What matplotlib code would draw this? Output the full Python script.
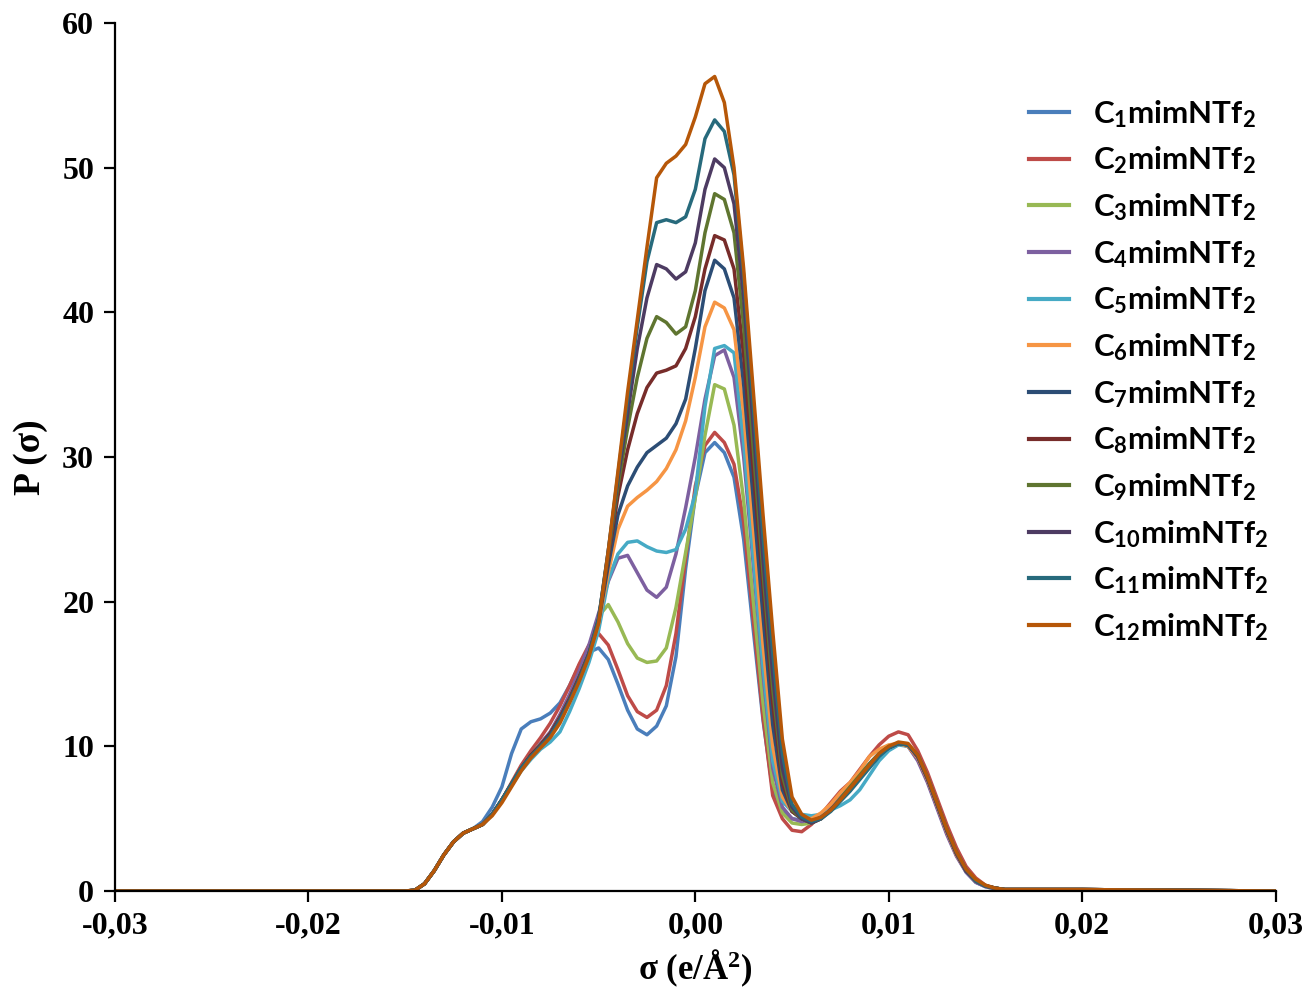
import numpy as np
import matplotlib
matplotlib.use("Agg")
import matplotlib.pyplot as plt
from matplotlib.ticker import FuncFormatter, MultipleLocator

# sigma grid (e/A^2): flat ends plus 0.0005 steps over the profile
sigma = np.concatenate(([-0.03], np.round(np.arange(-0.015, 0.01601, 0.0005), 4), [0.02, 0.025, 0.03]))

# P(sigma) values, one list per ionic liquid
# columns: -0.03 | -0.015 ... 0.016 (step 0.0005) | 0.02 0.025 0.03
c1 = [0, 0, 0.05, 0.5, 1.4, 2.5, 3.4, 4.0, 4.3, 4.8, 5.8, 7.2, 9.5, 11.2, 11.7, 11.9, 12.3, 13.0, 14.2, 15.6, 16.5,
      16.8, 16.0, 14.3, 12.5, 11.2, 10.8, 11.4, 12.8, 16.2, 22.3, 27.3, 30.3, 31.0, 30.3, 28.6, 24.3, 18.0, 11.8, 7.0, 5.5, 5.0, 4.9,
      4.8, 5.1, 5.6, 6.3, 7.0, 7.8, 8.6, 9.4, 9.9, 10.2, 10.0, 9.1, 7.6, 5.8, 4.0, 2.5, 1.3, 0.6, 0.3, 0.15, 0.1,
      0.1, 0.05, 0]
c2 = [0, 0, 0.05, 0.5, 1.4, 2.5, 3.4, 4.0, 4.3, 4.6, 5.3, 6.3, 7.5, 8.7, 9.7, 10.6, 11.6, 12.8, 14.2, 15.7, 17.0,
      17.8, 17.0, 15.3, 13.5, 12.4, 12.0, 12.5, 14.2, 17.8, 23.0, 28.0, 30.8, 31.7, 31.0, 29.5, 25.5, 18.7, 12.0, 6.6, 5.0, 4.2, 4.1,
      4.6, 5.3, 6.1, 6.9, 7.5, 8.4, 9.3, 10.1, 10.7, 11.0, 10.8, 9.7, 8.2, 6.4, 4.6, 3.0, 1.7, 0.9, 0.4, 0.2, 0.1,
      0.1, 0.05, 0]
c3 = [0, 0, 0.05, 0.5, 1.4, 2.5, 3.4, 4.0, 4.3, 4.6, 5.3, 6.3, 7.4, 8.5, 9.4, 10.2, 10.9, 12.0, 13.3, 14.8, 16.6,
      19.0, 19.8, 18.6, 17.1, 16.1, 15.8, 15.9, 16.8, 19.6, 23.4, 27.2, 31.5, 35.0, 34.7, 32.2, 27.0, 20.0, 13.0, 7.5, 5.4, 4.7, 4.6,
      4.7, 5.1, 5.6, 6.3, 7.0, 7.8, 8.6, 9.4, 9.9, 10.2, 10.1, 9.3, 7.8, 6.0, 4.2, 2.6, 1.4, 0.7, 0.35, 0.2, 0.1,
      0.1, 0.05, 0]
c4 = [0, 0, 0.05, 0.5, 1.4, 2.5, 3.4, 4.0, 4.3, 4.6, 5.3, 6.3, 7.4, 8.5, 9.4, 10.2, 11.0, 12.2, 13.6, 15.2, 17.0,
      19.2, 21.4, 23.0, 23.2, 22.0, 20.8, 20.3, 21.0, 23.3, 26.5, 30.0, 34.0, 37.0, 37.4, 35.5, 30.0, 22.5, 15.0, 8.5, 5.8, 5.0, 4.8,
      4.9, 5.3, 5.8, 6.5, 7.2, 8.0, 8.8, 9.5, 10.0, 10.2, 10.0, 9.0, 7.5, 5.7, 3.9, 2.4, 1.3, 0.6, 0.3, 0.15, 0.1,
      0.1, 0.05, 0]
c5 = [0, 0, 0.05, 0.5, 1.4, 2.5, 3.4, 4.0, 4.3, 4.6, 5.3, 6.3, 7.3, 8.3, 9.1, 9.8, 10.3, 11.0, 12.4, 14.0, 15.8,
      18.0, 21.5, 23.3, 24.1, 24.2, 23.8, 23.5, 23.4, 23.6, 25.0, 27.5, 33.5, 37.5, 37.7, 37.2, 31.0, 23.0, 15.5, 9.0, 6.2, 5.5, 5.3,
      5.2, 5.3, 5.6, 5.9, 6.3, 7.0, 8.0, 9.0, 9.7, 10.1, 10.0, 9.3, 7.8, 6.0, 4.2, 2.6, 1.4, 0.7, 0.35, 0.2, 0.1,
      0.1, 0.05, 0]
c6 = [0, 0, 0.05, 0.5, 1.4, 2.5, 3.4, 4.0, 4.3, 4.6, 5.3, 6.3, 7.4, 8.5, 9.4, 10.1, 10.9, 12.0, 13.3, 14.8, 16.4,
      18.5, 22.0, 25.0, 26.6, 27.2, 27.7, 28.3, 29.2, 30.5, 32.5, 35.5, 39.0, 40.7, 40.3, 38.8, 33.0, 25.0, 17.0, 10.0, 6.5, 5.5, 5.1,
      5.0, 5.4, 6.0, 6.8, 7.5, 8.3, 9.3, 9.8, 10.1, 10.2, 10.0, 9.2, 7.7, 5.9, 4.1, 2.5, 1.4, 0.7, 0.35, 0.2, 0.1,
      0.1, 0.05, 0]
c7 = [0, 0, 0.05, 0.5, 1.4, 2.5, 3.4, 4.0, 4.3, 4.6, 5.3, 6.3, 7.4, 8.5, 9.4, 10.1, 10.9, 12.0, 13.3, 14.8, 16.4,
      18.6, 22.5, 26.0, 28.0, 29.3, 30.3, 30.8, 31.3, 32.3, 34.0, 37.5, 41.5, 43.6, 43.0, 41.0, 35.0, 27.0, 19.0, 11.5, 7.0, 5.5, 5.0,
      4.8, 5.1, 5.6, 6.3, 7.0, 7.8, 8.6, 9.4, 9.9, 10.2, 10.1, 9.3, 7.8, 6.0, 4.2, 2.6, 1.4, 0.7, 0.35, 0.2, 0.1,
      0.1, 0.05, 0]
c8 = [0, 0, 0.05, 0.5, 1.4, 2.5, 3.4, 4.0, 4.3, 4.6, 5.3, 6.3, 7.4, 8.5, 9.4, 10.1, 10.9, 12.0, 13.3, 14.8, 16.4,
      18.7, 23.0, 27.3, 30.5, 33.0, 34.8, 35.8, 36.0, 36.3, 37.5, 39.7, 43.0, 45.3, 45.0, 43.0, 37.0, 29.0, 21.0, 13.0, 7.5, 5.5, 5.0,
      4.7, 5.0, 5.6, 6.3, 7.0, 7.8, 8.6, 9.4, 9.9, 10.2, 10.1, 9.3, 7.8, 6.0, 4.2, 2.6, 1.4, 0.7, 0.35, 0.2, 0.1,
      0.1, 0.05, 0]
c9 = [0, 0, 0.05, 0.5, 1.4, 2.5, 3.4, 4.0, 4.3, 4.6, 5.3, 6.3, 7.4, 8.5, 9.3, 10.0, 10.8, 11.9, 13.2, 14.7, 16.4,
      18.8, 23.3, 28.0, 32.0, 35.5, 38.2, 39.7, 39.3, 38.5, 39.0, 41.5, 45.5, 48.2, 47.8, 45.5, 39.0, 30.5, 22.0, 14.0, 8.0, 5.6, 5.0,
      4.7, 5.0, 5.6, 6.4, 7.2, 8.0, 8.8, 9.5, 10.0, 10.2, 10.1, 9.3, 7.8, 6.0, 4.2, 2.6, 1.4, 0.7, 0.35, 0.2, 0.1,
      0.1, 0.05, 0]
c10 = [0, 0, 0.05, 0.5, 1.4, 2.5, 3.4, 4.0, 4.3, 4.6, 5.3, 6.3, 7.4, 8.5, 9.3, 10.0, 10.8, 11.9, 13.2, 14.7, 16.4,
       18.8, 23.5, 28.5, 33.0, 37.5, 41.0, 43.3, 43.0, 42.3, 42.8, 44.8, 48.5, 50.6, 50.0, 47.5, 41.0, 32.0, 23.0, 15.0, 8.5, 5.8, 5.0,
       4.7, 5.0, 5.6, 6.3, 7.0, 7.8, 8.6, 9.4, 9.9, 10.2, 10.1, 9.3, 7.8, 6.0, 4.2, 2.6, 1.4, 0.7, 0.35, 0.2, 0.1,
       0.1, 0.05, 0]
c11 = [0, 0, 0.05, 0.5, 1.4, 2.5, 3.4, 4.0, 4.3, 4.6, 5.3, 6.3, 7.4, 8.5, 9.3, 10.0, 10.7, 11.8, 13.1, 14.6, 16.3,
       18.8, 23.5, 28.8, 34.0, 39.0, 43.5, 46.2, 46.4, 46.2, 46.6, 48.5, 52.0, 53.3, 52.5, 49.5, 42.5, 33.5, 24.5, 16.5, 9.5, 6.0, 5.1,
       4.8, 5.0, 5.5, 6.2, 6.9, 7.7, 8.5, 9.3, 9.9, 10.2, 10.1, 9.4, 7.9, 6.1, 4.3, 2.7, 1.5, 0.7, 0.35, 0.2, 0.1,
       0.1, 0.05, 0]
c12 = [0, 0, 0.05, 0.5, 1.4, 2.5, 3.4, 4.0, 4.3, 4.6, 5.2, 6.1, 7.2, 8.3, 9.2, 9.9, 10.6, 11.6, 13.0, 14.5, 16.2,
       18.5, 23.5, 29.0, 34.5, 39.5, 44.5, 49.3, 50.3, 50.8, 51.6, 53.5, 55.8, 56.3, 54.5, 50.0, 43.0, 34.5, 26.0, 18.0, 10.5, 6.5, 5.3,
       4.9, 5.1, 5.6, 6.3, 7.1, 7.9, 8.7, 9.5, 10.0, 10.3, 10.2, 9.4, 7.9, 6.1, 4.3, 2.7, 1.5, 0.8, 0.4, 0.2, 0.1,
       0.1, 0.05, 0]

profiles = [c1, c2, c3, c4, c5, c6, c7, c8, c9, c10, c11, c12]
names = [r"C$_{%d}$mimNTf$_{2}$" % n for n in range(1, 13)]
colors = ["#4A7EBB", "#BE4B48", "#98B954", "#7D60A0", "#46AAC5", "#F69544",
          "#2C4D75", "#772C2A", "#5F7530", "#4D3B62", "#276A7C", "#B65708"]

plt.rcParams["mathtext.default"] = "regular"

fig = plt.figure(figsize=(13.07, 9.94), dpi=100)
ax = fig.add_axes([0.088, 0.1036, 0.888, 0.8733])

for vals, name, col in zip(profiles, names, colors):
    ax.plot(sigma, vals, color=col, lw=2.5, label=name, solid_joinstyle="round")

ax.set_xlim(-0.03, 0.03)
ax.set_ylim(0, 60)
ax.xaxis.set_major_locator(MultipleLocator(0.01))
ax.yaxis.set_major_locator(MultipleLocator(10))
ax.xaxis.set_major_formatter(FuncFormatter(lambda v, p: ("%.2f" % v).replace("-0.00", "0.00").replace(".", ",")))

for s in ["top", "right"]:
    ax.spines[s].set_visible(False)
for s in ["left", "bottom"]:
    ax.spines[s].set_linewidth(1.6)

ax.tick_params(direction="out", length=8, width=1.6, pad=7)
for lab in ax.get_xticklabels() + ax.get_yticklabels():
    lab.set_fontfamily("Liberation Serif")
    lab.set_fontweight("bold")
    lab.set_fontsize(23)

ax.set_xlabel(r"σ (e/Å$^{2}$)", fontfamily="Liberation Serif", fontweight="bold", fontsize=25, labelpad=5)
ax.set_ylabel("P (σ)", fontfamily="Liberation Serif", fontweight="bold", fontsize=27, labelpad=10)

leg = ax.legend(loc="upper left", bbox_to_anchor=(0.763, 0.946), frameon=False,
                prop={"family": "Lato", "weight": "bold", "size": 22.5},
                handlelength=1.3, handletextpad=0.75, labelspacing=0.475)
for h in leg.get_lines():
    h.set_linewidth(3)

fig.savefig("out.png", dpi=100)
